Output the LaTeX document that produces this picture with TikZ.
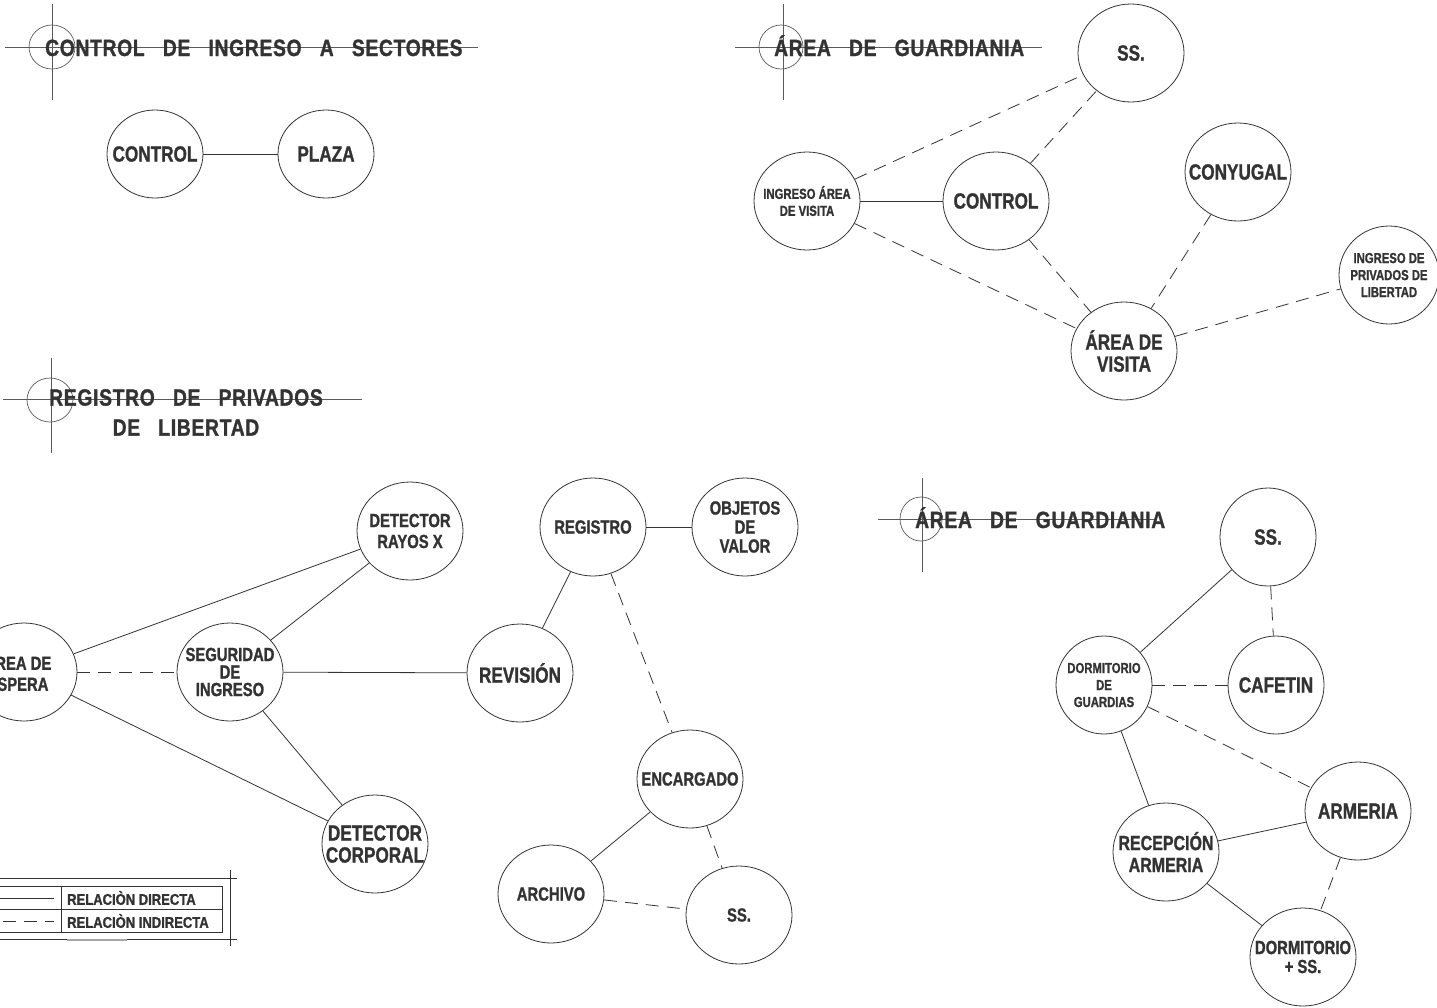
\documentclass[tikz,border=0pt]{standalone}
\usepackage{fontspec}
\newfontfamily\roomfont{Liberation Sans Bold}[FakeStretch=0.78,FakeBold=1.2]
\newfontfamily\legendfont{Liberation Sans Bold}[FakeStretch=0.84,FakeBold=1.2]
\newfontfamily\titlefont{Liberation Sans Bold}[FakeStretch=0.82,FakeBold=1.2,LetterSpace=3,WordSpace=3]
\usetikzlibrary{shapes.geometric}
\definecolor{ink}{HTML}{333333}
\definecolor{rulegray}{HTML}{5A5A5A}

\begin{document}
\begin{tikzpicture}[x = 1pt, y = -1pt,
  room/.style = {draw = ink, line width = 0.8pt, ellipse, inner sep = 0pt, minimum width = 106pt, minimum height = 98pt},
  big/.style = {font = \roomfont\fontsize{22}{22}\selectfont, text = ink, align = center},
  mid/.style = {font = \roomfont\fontsize{19}{19}\selectfont, text = ink, align = center},
  small/.style = {font = \roomfont\fontsize{14.5}{17}\selectfont, text = ink, align = center},
  direct/.style = {draw = ink, line width = 0.8pt},
  indirect/.style = {draw = ink, line width = 0.8pt, dash pattern = on 13pt off 8pt},
  crosshair/.style = {draw = rulegray, line width = 0.7pt},
  heading/.style = {font = \titlefont\fontsize{23.5}{30}\selectfont, text = ink, inner sep = 0pt},
  legendtext/.style = {font = \legendfont\fontsize{15.5}{17}\selectfont, text = ink, inner sep = 0pt, anchor = west}]
\useasboundingbox (0,0) rectangle (1437,1007);
% heading marks
\path[crosshair] (52,4) to (52,100);
\path[crosshair] (5,47) to (478,47);
\path[crosshair] (52,47) ellipse [x radius = 23pt, y radius = 22pt];
\path[crosshair] (783,4) to (783,100);
\path[crosshair] (735,47) to (1042,47);
\path[crosshair] (781,47) ellipse [x radius = 22pt, y radius = 22pt];
\path[crosshair] (51,358) to (51,453);
\path[crosshair] (3,399) to (362,399);
\path[crosshair] (50,400) ellipse [x radius = 23pt, y radius = 22pt];
\path[crosshair] (922,478) to (922,572);
\path[crosshair] (878,519) to (1156,519);
\path[crosshair] (921,519) ellipse [x radius = 21pt, y radius = 22pt];
% headings
\node[heading, anchor = base west] (head1) at (45,56) {CONTROL DE INGRESO A SECTORES};
\node[heading, anchor = base west] (head2) at (774,56) {ÁREA DE GUARDIANIA};
\node[heading, anchor = north, align = center] (head3) at (186,389) {REGISTRO DE PRIVADOS\\DE LIBERTAD};
\node[heading, anchor = base west] (head4) at (915,528) {ÁREA DE GUARDIANIA};
% control de ingreso
\node[room, minimum width = 96pt, minimum height = 88pt, label = {[big]center:CONTROL}] (control) at (155,154) {};
\node[room, minimum width = 96pt, minimum height = 88pt, label = {[big]center:PLAZA}] (plaza) at (326,154) {};
\path[direct] (control) to (plaza);
% area de guardiania, visita
\node[room, label = {[big]center:SS.}] (ssv) at (1131,53) {};
\node[room, label = {[small]center:INGRESO ÁREA\\DE VISITA}] (ingvisita) at (807,201) {};
\node[room, label = {[big]center:CONTROL}] (controlv) at (996,201) {};
\node[room, label = {[big]center:CONYUGAL}] (conyugal) at (1238,172) {};
\node[room, label = {[big]center:ÁREA DE\\VISITA}] (visita) at (1124,351) {};
\node[room, minimum width = 100pt, label = {[small]center:INGRESO DE\\PRIVADOS DE\\LIBERTAD}] (ingprivados) at (1389,275) {};
\path[indirect] (ingvisita) to (ssv);
\path[direct] (ingvisita) to (controlv);
\path[indirect] (ingvisita) to (visita);
\path[indirect] (controlv) to (ssv);
\path[indirect] (controlv) to (visita);
\path[indirect] (conyugal) to (visita);
\path[indirect] (visita) to (ingprivados);
% registro de privados de libertad
\node[room, label = {[mid, xshift = -6pt]center:ÁREA DE\\[2pt]ESPERA}] (espera) at (24,672) {};
\node[room, label = {[mid]center:SEGURIDAD\\[-1.5pt]DE\\[-1.5pt]INGRESO}] (seguridad) at (230,672) {};
\node[room, label = {[mid]center:DETECTOR\\[2pt]RAYOS X}] (rayos) at (410,531) {};
\node[room, label = {[big]center:DETECTOR\\CORPORAL}] (corporal) at (375,844) {};
\node[room, label = {[big]center:REVISIÓN}] (revision) at (520,673) {};
\node[room, label = {[mid]center:REGISTRO}] (registro) at (593,527) {};
\node[room, label = {[mid]center:OBJETOS\\DE\\VALOR}] (objetos) at (745,527) {};
\node[room, label = {[mid]center:ENCARGADO}] (encargado) at (690,779) {};
\node[room, label = {[mid]center:ARCHIVO}] (archivo) at (551,894) {};
\node[room, label = {[mid]center:SS.}] (ssr) at (739,915) {};
\path[direct] (espera) to (rayos);
\path[indirect] (espera) to (seguridad);
\path[direct] (espera) to (corporal);
\path[direct] (seguridad) to (rayos);
\path[direct] (seguridad) to (revision);
\path[direct] (seguridad) to (corporal);
\path[direct] (revision) to (registro);
\path[direct] (registro) to (objetos);
\path[indirect] (registro) to (encargado);
\path[direct] (encargado) to (archivo);
\path[indirect] (encargado) to (ssr);
\path[indirect] (archivo) to (ssr);
% area de guardiania, guardias
\node[room, minimum width = 96pt, label = {[big]center:SS.}] (ssg) at (1268,537) {};
\node[room, minimum width = 96pt, label = {[big]center:CAFETIN}] (cafetin) at (1276,685) {};
\node[room, minimum width = 96pt, label = {[small]center:DORMITORIO\\DE\\GUARDIAS}] (dormguardias) at (1104,685) {};
\node[room, label = {[big]center:ARMERIA}] (armeria) at (1358,811) {};
\node[room, label = {[big, font = \roomfont\fontsize{20.5}{22}\selectfont]center:RECEPCIÓN\\ARMERIA}] (recepcion) at (1166,852) {};
\node[room, label = {[mid]center:DORMITORIO\\+ SS.}] (dormss) at (1303,957) {};
\path[direct] (dormguardias) to (ssg);
\path[indirect] (ssg) to (cafetin);
\path[indirect] (dormguardias) to (cafetin);
\path[indirect] (dormguardias) to (armeria);
\path[direct] (dormguardias) to (recepcion);
\path[direct] (recepcion) to (armeria);
\path[direct] (recepcion) to (dormss);
\path[indirect] (armeria) to (dormss);
% legend
\path[direct] (0,878) to (237,878);
\path[direct] (0,939) to (237,939);
\path[direct] (230,870) to (230,946);
\path[direct] (0,886) to (222,886) to (222,932) to (0,932);
\path[direct] (0,909) to (222,909);
\path[direct] (61,886) to (61,932);
\path[direct] (0,898) to (54,898);
\path[indirect] (3,921) to (54,921);
\path[draw = black!35, line width = 2.5pt] (67,940) to (127,940);
\node[legendtext] (legdirect) at (67,898) {RELACIÒN DIRECTA};
\node[legendtext] (legindirect) at (67,921) {RELACIÒN INDIRECTA};
\end{tikzpicture}
\end{document}
